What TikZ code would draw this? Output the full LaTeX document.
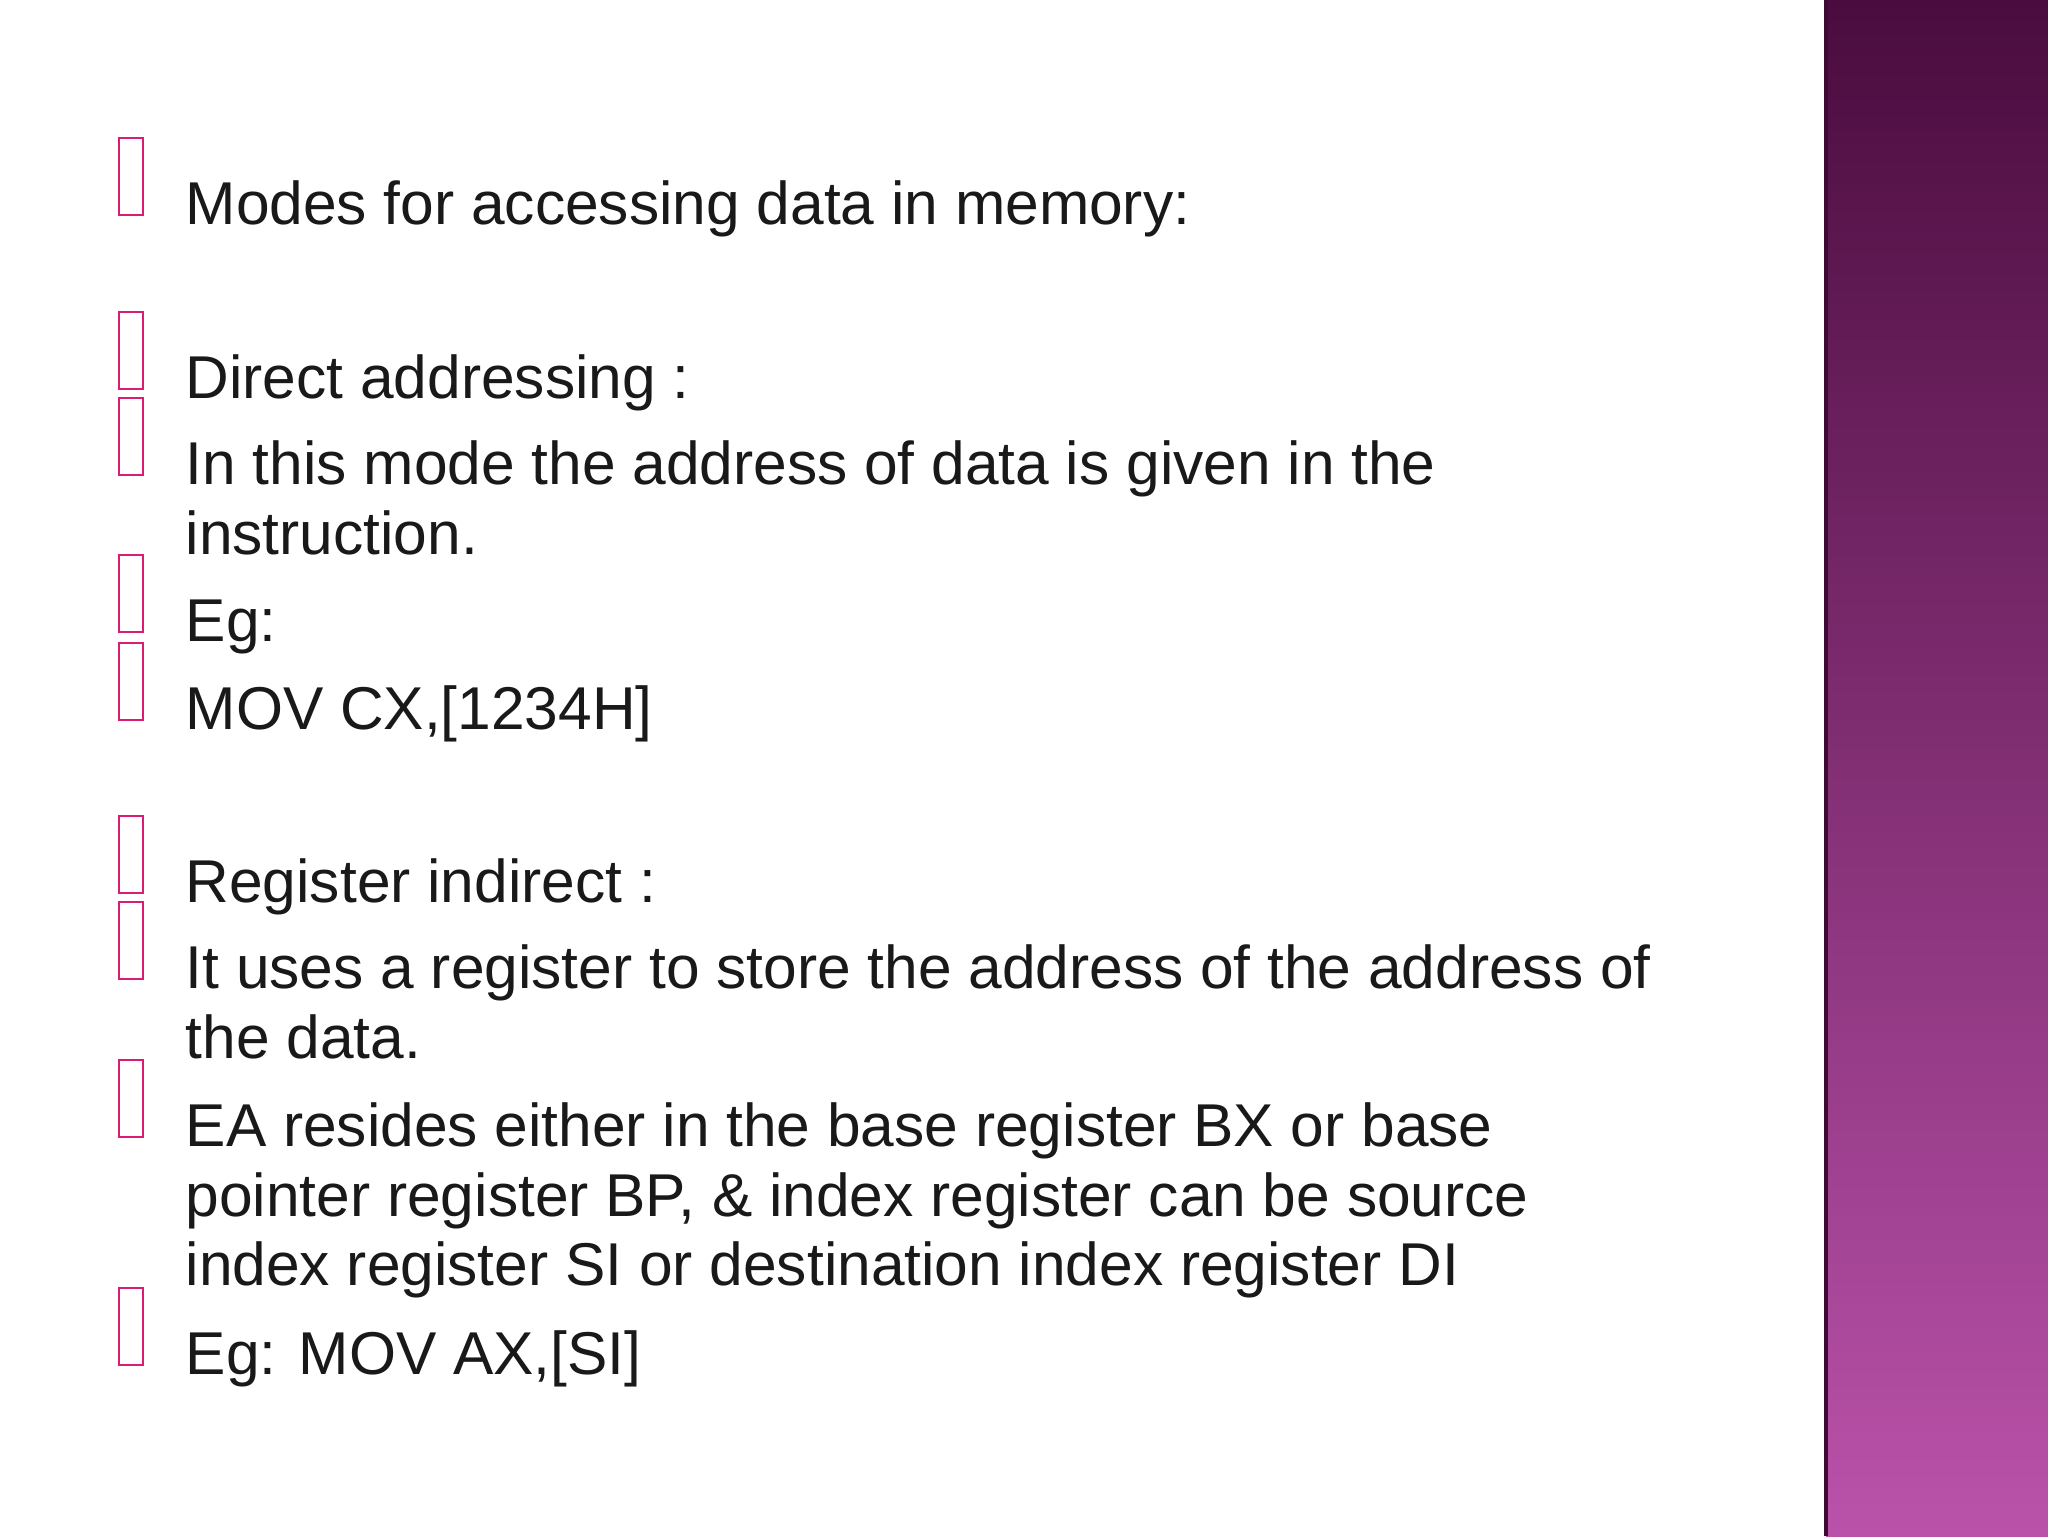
\documentclass[tikz,border=0pt]{standalone}
\usepackage{fontspec}
\setmainfont{Liberation Sans}
\definecolor{bartop}{RGB}{74,12,62}
\definecolor{barbot}{RGB}{186,82,170}
\definecolor{baredge}{RGB}{60,10,50}
\begin{document}
\begin{tikzpicture}[x=0.1mm,y=-0.1mm,
  txt/.style={anchor=base west,inner sep=0pt,font=\fontsize{17.2}{20}\selectfont,text=black!90},
  bul/.style={draw=magenta!60!purple,line width=0.5pt,minimum width=7,minimum height=22,inner sep=0pt,anchor=south}]
\useasboundingbox (0,0) rectangle (2048,1536);
\fill[white] (0,0) rectangle (2048,1536);
\shade[top color=bartop,bottom color=barbot] (1826,0) rectangle (2048,1536);
\draw[baredge,line width=1pt] (1826,0) -- (1826,1536);
\foreach \n/\y/\t in {a/224/{Modes for accessing data in memory:},
  b/398/{Direct addressing :},
  c/484/{In this mode the address of data is given in the},
  c2/554/{instruction.},
  d/641/{Eg:},
  e/729/{MOV CX,[1234H]},
  f/902/{Register indirect :},
  g/988/{It uses a register to store the address of the address of},
  g2/1058/{the data.},
  h/1146/{EA resides either in the base register BX or base},
  h2/1216/{pointer register BP, \& index register can be source},
  h3/1285/{index register SI or destination index register DI},
  i/1374/{Eg: MOV AX,[SI]}}
  {\node[txt] (\n) at (185,\y) {\t};}
\foreach \n/\y in {a/224,b/398,c/484,d/641,e/729,f/902,g/988,h/1146,i/1374}
  {\node[bul] (bul\n) at (131,\y-8) {};}
\end{tikzpicture}
\end{document}
